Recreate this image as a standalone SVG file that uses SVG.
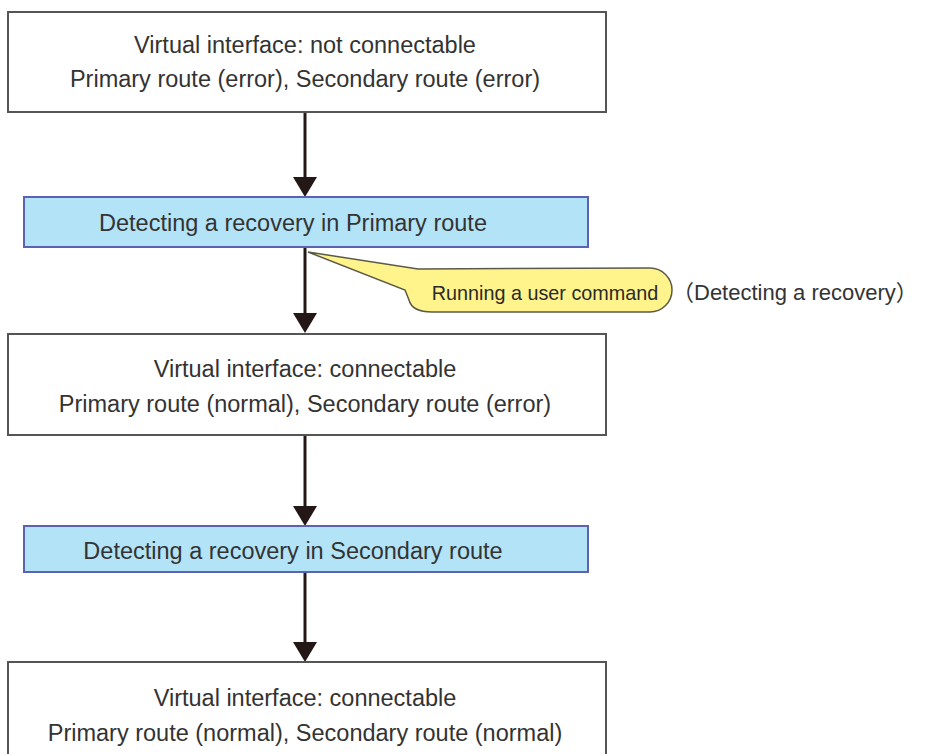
<svg xmlns="http://www.w3.org/2000/svg" width="925" height="754" viewBox="0 0 925 754">
<style>
.state{fill:#ffffff;stroke:#555555;stroke-width:2}
.event{fill:#b3e3f7;stroke:#5b62b3;stroke-width:2}
.t{font-family:"Liberation Sans",Arial,sans-serif;font-size:23.5px;fill:#333333;text-anchor:middle}
.conn{stroke:#231815;stroke-width:3;fill:none}
.callout{fill:#fff38c;stroke:#5a5a48;stroke-width:1.5}
.ct{font-family:"Liberation Sans",Arial,sans-serif;font-size:19.8px;fill:#2a2a2a;text-anchor:middle}
.note{font-family:"Liberation Sans","Noto Sans CJK JP",sans-serif;font-size:22px;fill:#333333}
</style>
<defs>
<marker id="ah" markerUnits="userSpaceOnUse" markerWidth="20" markerHeight="24" viewBox="0 0 20 24" refX="10" refY="12" orient="auto">
<path d="M0,0 L20,12 L0,24 Z" fill="#231815"/>
</marker>
</defs>
<g id="connectors">
<line class="conn" x1="305" y1="112" x2="305" y2="187" marker-end="url(#ah)"/>
<line class="conn" x1="305" y1="247" x2="305" y2="323" marker-end="url(#ah)"/>
<line class="conn" x1="305" y1="435" x2="305" y2="516" marker-end="url(#ah)"/>
<line class="conn" x1="305" y1="572" x2="305" y2="652" marker-end="url(#ah)"/>
</g>
<g id="state1">
<rect class="state" x="8" y="12" width="598" height="100"/>
<text class="t" x="305" y="53">Virtual interface: not connectable</text>
<text class="t" x="305" y="87">Primary route (error), Secondary route (error)</text>
</g>
<g id="event1">
<rect class="event" x="24" y="197" width="564" height="50"/>
<text class="t" x="293" y="231">Detecting a recovery in Primary route</text>
</g>
<g id="callout">
<path class="callout" d="M308,252 L418,269 L650,268 A22,22 0 0 1 650,312 L432,312 Q412,312 409,300 L405,290 Z"/>
<text class="ct" x="545" y="300">Running a user command</text>
</g>
<g id="note">
<text class="note" x="672" y="300">（Detecting a recovery）</text>
</g>
<g id="state2">
<rect class="state" x="8" y="334" width="598" height="101"/>
<text class="t" x="305" y="377">Virtual interface: connectable</text>
<text class="t" x="305" y="412">Primary route (normal), Secondary route (error)</text>
</g>
<g id="event2">
<rect class="event" x="24" y="526" width="564" height="46"/>
<text class="t" x="293" y="559">Detecting a recovery in Secondary route</text>
</g>
<g id="state3">
<rect class="state" x="8" y="662" width="598" height="100"/>
<text class="t" x="305" y="706">Virtual interface: connectable</text>
<text class="t" x="305" y="741">Primary route (normal), Secondary route (normal)</text>
</g>
</svg>
